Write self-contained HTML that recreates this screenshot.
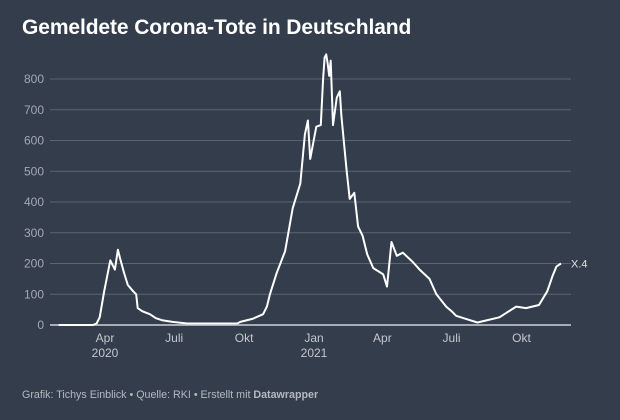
<!DOCTYPE html>
<html><head><meta charset="utf-8"><style>
body{margin:0;width:620px;height:420px;background:#343d4c;font-family:"Liberation Sans",sans-serif;overflow:hidden;position:relative}
#title{position:absolute;left:22px;top:16px;font-size:21px;font-weight:bold;color:#fff;letter-spacing:-0.1px}
#foot{position:absolute;left:22px;top:389px;font-size:10.7px;color:#b4b9c0}
svg{position:absolute;left:0;top:0}
</style></head><body>
<div id="title">Gemeldete Corona-Tote in Deutschland</div>
<div id="foot">Grafik: Tichys Einblick • Quelle: RKI • Erstellt mit <b>Datawrapper</b></div>
<svg id="chart" width="620" height="420"></svg>
<script>
const yTicks=[0,100,200,300,400,500,600,700,800];
const xTickDays=[91,182,274,366,456,547,639];
const xTickLabels=["Apr","Juli","Okt","Jan","Apr","Juli","Okt"];
const xTickYears=["2020","","","2021","","",""];
const days=[30,75,80,84,90,98,104,108,111,116,121,128,132,134,140,150,158,167,180,199,265,269,285,299,304,308,317,328,338,348,354,358,361,369,375,378,380,382,384,386,388,391,396,400,402,409,413,419,424,430,436,444,457,462,468,475,483,496,505,518,527,540,547,553,566,581,593,610,632,645,662,673,680,685,691];
const deaths=[0,0,5,25,110,210,180,245,215,170,130,110,100,55,45,35,22,15,10,5,5,10,20,35,60,100,170,240,380,460,620,665,540,645,650,800,870,880,850,810,860,650,740,760,680,500,410,430,320,290,230,185,165,125,270,225,235,205,180,150,100,60,45,30,20,8,15,25,60,55,65,110,160,190,200];
const lastLabel="X.4";
const NS="http://www.w3.org/2000/svg";
const svg=document.getElementById('chart');
const xs=d=>105+(d-91)*0.76;
const ys=v=>325-v*0.3075;
function mk(t,a){const e=document.createElementNS(NS,t);for(const k in a)e.setAttribute(k,a[k]);svg.appendChild(e);return e;}
yTicks.forEach(v=>{
 const l=mk('line',{x1:50,x2:571,y1:ys(v),y2:ys(v),stroke:v===0?'#a8adb5':'#5c6472','stroke-width':v===0?2:1});
 
 
 const t=mk('text',{x:44,y:ys(v)+4,'text-anchor':'end','font-size':12,fill:'#a3a8b0'});
 t.textContent=v;
 
 
});
xTickDays.forEach((d,i)=>{
 const t=mk('text',{x:xs(d),y:342,'text-anchor':'middle','font-size':12,fill:'#c4c8ce'});
 t.textContent=xTickLabels[i];
 
 
 if(xTickYears[i]){
  const y=mk('text',{x:xs(d),y:357,'text-anchor':'middle','font-size':12,fill:'#c4c8ce'});
  y.textContent=xTickYears[i];
  
  
 }
});
const pts=days.map((d,i)=>xs(d).toFixed(1)+','+ys(deaths[i]).toFixed(1)).join(' ');
const pl=mk('polyline',{points:pts,fill:'none',stroke:'#fff','stroke-width':2,'stroke-linejoin':'round'});


const n=days.length-1;
const lb=mk('text',{x:xs(days[n])+10,y:ys(deaths[n])+4,'font-size':11,fill:'#e0e3e6'});
lb.textContent=lastLabel;


</script>
</body></html>
